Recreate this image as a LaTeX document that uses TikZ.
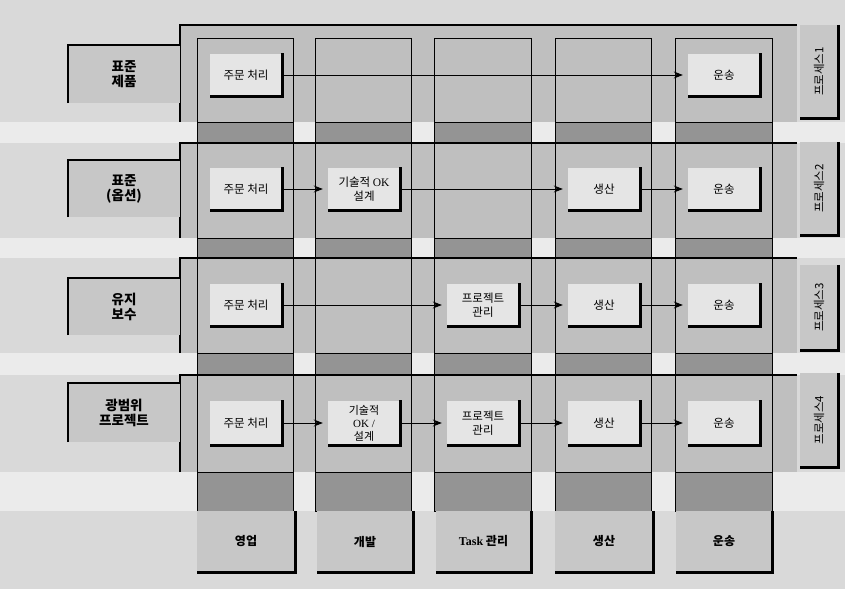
\documentclass[tikz,border=0pt]{standalone}
\usepackage{fontspec}
\usepackage{graphicx}
\setmainfont{Noto Sans CJK KR}
\newfontfamily\lat{Liberation Serif}
\usetikzlibrary{arrows.meta}
\definecolor{bgc}{gray}{0.85}
\definecolor{gapc}{gray}{0.92}
\definecolor{cellc}{gray}{0.75}
\definecolor{bandc}{gray}{0.58}
\definecolor{innerc}{gray}{0.90}
\definecolor{lblc}{gray}{0.78}
\begin{document}
\begin{tikzpicture}[x=1pt,y=-1pt,
  thk/.style={line width=2.6pt},
  thn/.style={line width=0.7pt},
  inbox/.style={fill=innerc, minimum width=72pt, minimum height=43pt, inner sep=1pt, align=center,
    font=\fontsize{11.5}{13.5}\selectfont},
  lbox/.style={fill=lblc, minimum width=112pt, inner sep=0pt, align=center,
    font=\fontsize{13.5}{15}\selectfont\bfseries},
  rbox/.style={fill=lblc, minimum width=38pt, inner sep=0pt,
    font=\fontsize{11.5}{13}\selectfont},
  fbox/.style={fill=lblc, minimum height=61pt, inner sep=0pt,
    font=\fontsize{12}{14}\selectfont\bfseries},
  conn/.style={-{Stealth[length=9pt,width=7pt]}, line width=0.8pt, shorten >=5pt}]
\useasboundingbox (0,0) rectangle (845,589);
\fill[bgc] (0,0) rectangle (845,589);
% lighter stripes at band rows
\fill[gapc] (0,122) rectangle (845,143);
\fill[gapc] (0,238) rectangle (845,258);
\fill[gapc] (0,353) rectangle (845,375);
\fill[gapc] (0,472) rectangle (845,511);
% row frames
\foreach \t/\b in {25/122,143/238,258/353,375/472}{
  \fill[cellc] (180,\t) rectangle (797,\b);
}
% cells
\foreach \l/\r in {197/293,315/411,434/531,555/651,675/772}{
  \draw[thn] (\l,38) rectangle (\r,122);
  \draw[thn] (\l,143) rectangle (\r,238);
  \draw[thn] (\l,258) rectangle (\r,353);
  \draw[thn] (\l,375) rectangle (\r,472);
  \draw[thn,fill=bandc] (\l,122) rectangle (\r,143);
  \draw[thn,fill=bandc] (\l,238) rectangle (\r,258);
  \draw[thn,fill=bandc] (\l,353) rectangle (\r,375);
  \draw[thn,fill=bandc] (\l,472) rectangle (\r,511);
}
\draw[thn] (293,38) -- (293,472);
\draw[thn] (651,38) -- (651,472);
% frame thick edges
\foreach \t/\b in {25/122,143/238,258/353,375/472}{
  \draw[thk] (180,\b) -- (180,\t) -- (797,\t);
}
% left labels
\node[lbox, minimum height=58pt] (l1) at (124,74) {표준\\제품};
\node[lbox, minimum height=57pt] (l2) at (124,188.5) {표준\\(옵션)};
\node[lbox, minimum height=57pt] (l3) at (124,306.5) {유지\\보수};
\node[lbox, minimum height=59pt] (l4) at (124,412.5) {광범위\\프로젝트};
\foreach \n in {l1,l2,l3,l4}{
  \draw[thk] (\n.south west) -- (\n.north west) -- (\n.north east);
}
% right labels
\node[rbox, minimum height=93pt] (r1) at (819,71.5) {\rotatebox{90}{프로세스1}};
\node[rbox, minimum height=93pt] (r2) at (819,188.5) {\rotatebox{90}{프로세스2}};
\node[rbox, minimum height=85pt] (r3) at (819,307.5) {\rotatebox{90}{프로세스3}};
\node[rbox, minimum height=94pt] (r4) at (819,420) {\rotatebox{90}{프로세스4}};
\foreach \n in {r1,r2,r3,r4}{
  \draw[thk] (\n.north east) -- (\n.south east) -- (\n.south west);
}
% inner activity boxes
\node[inbox] (a11) at (246,75) {주문 처리};
\node[inbox] (a15) at (724,75) {운송};
\node[inbox] (a21) at (246,189) {주문 처리};
\node[inbox] (a22) at (364,189) {기술적 {\lat OK}\\설계};
\node[inbox] (a24) at (604,189) {생산};
\node[inbox] (a25) at (724,189) {운송};
\node[inbox] (a31) at (246,305) {주문 처리};
\node[inbox] (a33) at (483,305) {프로젝트\\관리};
\node[inbox] (a34) at (604,305) {생산};
\node[inbox] (a35) at (724,305) {운송};
\node[inbox, minimum height=45pt, font=\fontsize{11.5}{13.5}\selectfont] (a41) at (246,423) {주문 처리};
\node[inbox, minimum height=45pt, font=\fontsize{11}{13}\selectfont] (a42) at (364,423) {기술적\\{\lat OK /}\\설계};
\node[inbox, minimum height=45pt, font=\fontsize{11.5}{13.5}\selectfont] (a43) at (483,423) {프로젝트\\관리};
\node[inbox, minimum height=45pt, font=\fontsize{11.5}{13.5}\selectfont] (a44) at (604,423) {생산};
\node[inbox, minimum height=45pt, font=\fontsize{11.5}{13.5}\selectfont] (a45) at (724,423) {운송};
\foreach \n in {a11,a15,a21,a22,a24,a25,a31,a33,a34,a35,a41,a42,a43,a44,a45}{
  \draw[thk] (\n.north east) -- (\n.south east) -- (\n.south west);
}
% connectors
\draw[conn] (a11) -- (a15);
\draw[conn] (a21) -- (a22);
\draw[conn] (a22) -- (a24);
\draw[conn] (a24) -- (a25);
\draw[conn] (a31) -- (a33);
\draw[conn] (a33) -- (a34);
\draw[conn] (a34) -- (a35);
\draw[conn] (a41) -- (a42);
\draw[conn] (a42) -- (a43);
\draw[conn] (a43) -- (a44);
\draw[conn] (a44) -- (a45);
% bottom function boxes
\node[fbox, minimum width=98pt] (f1) at (246,541.5) {영업};
\node[fbox, minimum width=96pt] (f2) at (365,541.5) {개발};
\node[fbox, minimum width=95pt] (f3) at (483.5,541.5) {{\lat Task} 관리};
\node[fbox, minimum width=98pt] (f4) at (604,541.5) {생산};
\node[fbox, minimum width=96pt] (f5) at (724,541.5) {운송};
\foreach \n in {f1,f2,f3,f4,f5}{
  \draw[thk] (\n.north east) -- (\n.south east) -- (\n.south west);
}
\end{tikzpicture}
\end{document}
